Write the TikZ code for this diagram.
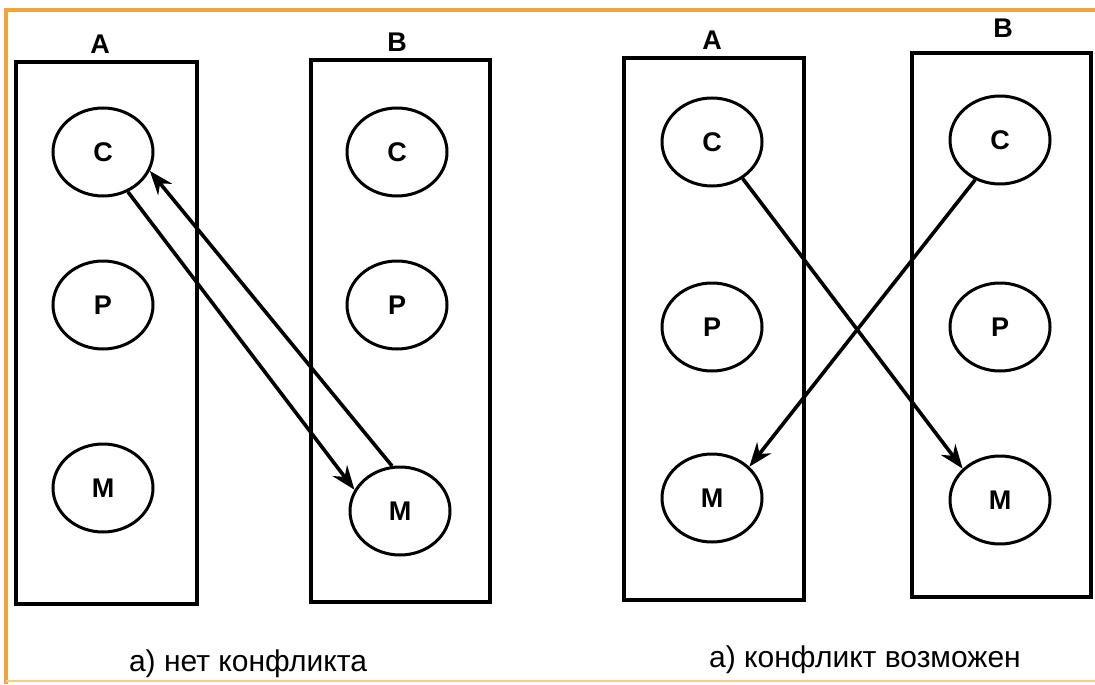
\documentclass[tikz,border=0pt]{standalone}
\usepackage{fontspec}
\setmainfont{Liberation Sans}
\usetikzlibrary{shapes.geometric,arrows.meta}
\definecolor{frameOr}{HTML}{F2A43A}
\definecolor{frameLt}{HTML}{F9CD8E}

\begin{document}
\begin{tikzpicture}[x=0.5pt, y=-0.5pt,
    sys/.style={draw=black, line width=2pt},
    obj/.style={ellipse, draw=black, line width=1.5pt,
                minimum width=50pt, minimum height=44pt,
                inner sep=0pt, font=\bfseries\fontsize{13.5}{15}\selectfont},
    ttl/.style={font=\bfseries\fontsize{13.5}{15}\selectfont},
    captext/.style={font=\fontsize{15}{18}\selectfont},
    arr/.style={-{Stealth[length=12pt, width=9pt]}, line width=1.8pt},
]
\useasboundingbox (0,0) rectangle (1095,684);

% orange frame
\draw[frameOr, line width=2pt] (6,684) -- (6,10) -- (1095,10);
\draw[frameLt, line width=1pt] (6,681) -- (1095,681);

% a) no conflict (left)
\draw[sys] (16,62) rectangle (197,604);
\draw[sys] (311,60) rectangle (490,602);
\node[ttl] (lA) at (100,44) {A};
\node[ttl] (lB) at (397,42) {B};
\node[obj] (lAC) at (103,152) {C};
\node[obj] (lAP) at (103,305) {P};
\node[obj] (lAM) at (103,488) {M};
\node[obj] (lBC) at (397,152) {C};
\node[obj] (lBP) at (397,305) {P};
\node[obj] (lBM) at (400,511) {M};

\draw[arr] (lAC.-58) -- (lBM.155);
\draw[arr] (lBM.100) -- (lAC.-22);

\node[captext] (capL) at (248,664) {а) нет конфликта};

% a) conflict possible (right)
\draw[sys] (624,58) rectangle (804,600);
\draw[sys] (912,53) rectangle (1091,597);
\node[ttl] (rA) at (712,40) {A};
\node[ttl] (rB) at (1003,28) {B};
\node[obj] (rAC) at (712,142) {C};
\node[obj] (rAP) at (712,327) {P};
\node[obj] (rAM) at (712,498) {M};
\node[obj] (rBC) at (1000,140) {C};
\node[obj] (rBP) at (1000,327) {P};
\node[obj] (rBM) at (1000,500) {M};

\draw[arr] (rAC.-50) -- (rBM.140);
\draw[arr] (rBC.-122) -- (rAM.40);

\node[captext] (capR) at (865,660) {а) конфликт возможен};

\end{tikzpicture}
\end{document}
